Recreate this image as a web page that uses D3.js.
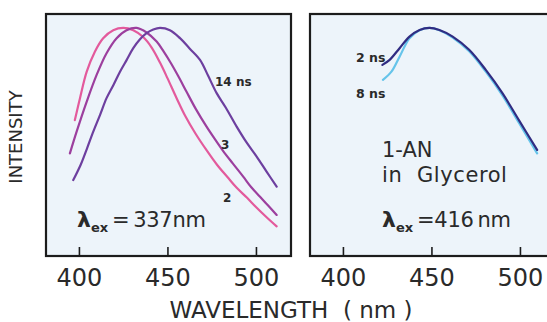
<!DOCTYPE html>
<html><head><meta charset="utf-8">
<script src="https://cdn.jsdelivr.net/npm/d3@7"></script>
<style>
html,body{margin:0;padding:0;background:#fff;}
svg{display:block;}
text{font-family:"DejaVu Sans",sans-serif;fill:#2a2a2a;}
</style></head>
<body>
<svg id="c" width="547" height="322"></svg>
<script>
// ---- data ----
const xTicks = [400, 450, 500];
const xDomain = [381.4, 519.8];
const yDomain = [0, 1.061];

// Left panel, excitation 337 nm (time-resolved spectra)
const left2ns = [[397.7,0.596],[400.6,0.692],[404.4,0.808],[409.0,0.896],[413.7,0.955],[419.4,0.99],[425.0,1.0],[430.7,0.99],[436.3,0.96],[441,0.915],[446,0.845],[450,0.78],[455,0.695],[460,0.615],[466,0.535],[472,0.465],[478,0.40],[484,0.345],[489,0.30],[495,0.255],[500,0.215],[506,0.17],[511.7,0.13]];
const left3ns = [[394.9,0.45],[398.7,0.545],[404.4,0.677],[410,0.794],[415.6,0.889],[421.3,0.955],[426.9,0.99],[432.6,1.0],[438.2,0.98],[443.9,0.94],[448,0.895],[452,0.845],[456,0.79],[460.8,0.72],[466,0.645],[472.1,0.567],[477,0.51],[481.5,0.46],[487,0.405],[492.8,0.348],[497.5,0.30],[502.3,0.26],[507,0.22],[511.7,0.18]];
const left14ns = [[396.8,0.333],[401,0.40],[404.5,0.47],[408.1,0.545],[412,0.62],[415.6,0.692],[419.5,0.75],[423.2,0.808],[427,0.86],[430.7,0.911],[434.5,0.95],[438.2,0.977],[442,0.993],[445.8,1.0],[451.4,0.99],[457.1,0.955],[462.5,0.91],[468.4,0.86],[473,0.79],[477.8,0.714],[483,0.65],[489.1,0.567],[494.5,0.50],[500.4,0.436],[506,0.37],[511.7,0.304]];

// Right panel, excitation 416 nm
const right2ns = [[422.3,0.838],[426.4,0.86],[432,0.911],[437.6,0.962],[443.3,0.991],[448.9,1.0],[454.5,0.991],[462,0.962],[471.3,0.904],[480.7,0.816],[490.1,0.714],[499.4,0.596],[509.7,0.465]];
const right8ns = [[422.6,0.772],[427.4,0.808],[432,0.874],[437.6,0.955],[443.3,0.99],[448.9,1.0],[454.5,0.99],[462,0.958],[471.3,0.898],[480.7,0.808],[490.1,0.704],[499.4,0.584],[509.7,0.45]];

const leftSeries = [
  {name:"2", data:left2ns, color:"#e35a9c"},
  {name:"3", data:left3ns, color:"#9c3f9e"},
  {name:"14 ns", data:left14ns, color:"#6d3f9f"}
];
const rightSeries = [
  {name:"8 ns", data:right8ns, color:"#66c4ea"},
  {name:"2 ns", data:right2ns, color:"#302c82"}
];

// ---- layout ----
const svg = d3.select("#c");
const yTop = 14, yBot = 256, panelW = 245;
const panels = [
  {x0:46, series:leftSeries},
  {x0:310, series:rightSeries}
];
const y = d3.scaleLinear().domain(yDomain).range([yBot, yTop]);

panels.forEach(p => {
  const x = d3.scaleLinear().domain(xDomain).range([p.x0, p.x0 + panelW]);
  const g = svg.append("g");
  g.append("rect").attr("x", p.x0).attr("y", yTop).attr("width", panelW).attr("height", yBot - yTop)
    .attr("fill", "#edf4fa").attr("stroke", "#1c1c1c").attr("stroke-width", 2.2);
  const line = d3.line().x(d => x(d[0])).y(d => y(d[1])).curve(d3.curveCatmullRom.alpha(0.5));
  p.series.forEach(s => {
    g.append("path").attr("d", line(s.data)).attr("fill", "none")
      .attr("stroke", s.color).attr("stroke-width", 2.2).attr("stroke-linecap", "round");
  });
  const ax = g.append("g").attr("transform", `translate(0,${yBot})`)
    .call(d3.axisBottom(x).tickValues(xTicks).tickSizeInner(-9).tickSizeOuter(0).tickPadding(13));
  ax.select(".domain").remove();
  ax.selectAll(".tick line").attr("stroke", "#1c1c1c").attr("stroke-width", 1.6);
  ax.selectAll(".tick text").attr("font-size", 24).attr("fill", "#2a2a2a")
    .attr("font-family", "DejaVu Sans, sans-serif").attr("dy", "0.71em");
});

// series labels
const lab = (x, yy, t, size) => svg.append("text").attr("x", x).attr("y", yy)
  .attr("font-size", size || 12).attr("font-weight", "bold").text(t);
lab(215, 86, "14 ns");
lab(221, 149, "3");
lab(223, 202, "2");
lab(356, 62, "2 ns", 12.5);
lab(356, 98, "8 ns", 12.5);

// excitation annotations
function lambdaEx(x, yy, rest) {
  const t = svg.append("text").attr("x", x).attr("y", yy).attr("font-size", 21);
  t.append("tspan").attr("font-weight", "bold").attr("font-size", 22).text("λ");
  t.append("tspan").attr("font-weight", "bold").attr("font-size", 13).attr("dy", 5).text("ex");
  t.append("tspan").attr("dy", -5).attr("letter-spacing", -0.3).text(rest);
}
lambdaEx(77, 227, "\u2009=\u2009337nm");
lambdaEx(382, 227, "\u2009=416\u2009nm");

svg.append("text").attr("x", 382).attr("y", 157).attr("font-size", 21).text("1-AN");
svg.append("text").attr("x", 382).attr("y", 182).attr("font-size", 21).attr("letter-spacing", 0.6).text("in\u00a0 Glycerol");

// axis titles
svg.append("text").attr("x", 291).attr("y", 318).attr("text-anchor", "middle")
  .attr("font-size", 23).text("WAVELENGTH\u00a0 ( nm )");
svg.append("text").attr("transform", "translate(22,137) rotate(-90)").attr("text-anchor", "middle")
  .attr("font-size", 18).text("INTENSITY");
</script>
</body></html>
